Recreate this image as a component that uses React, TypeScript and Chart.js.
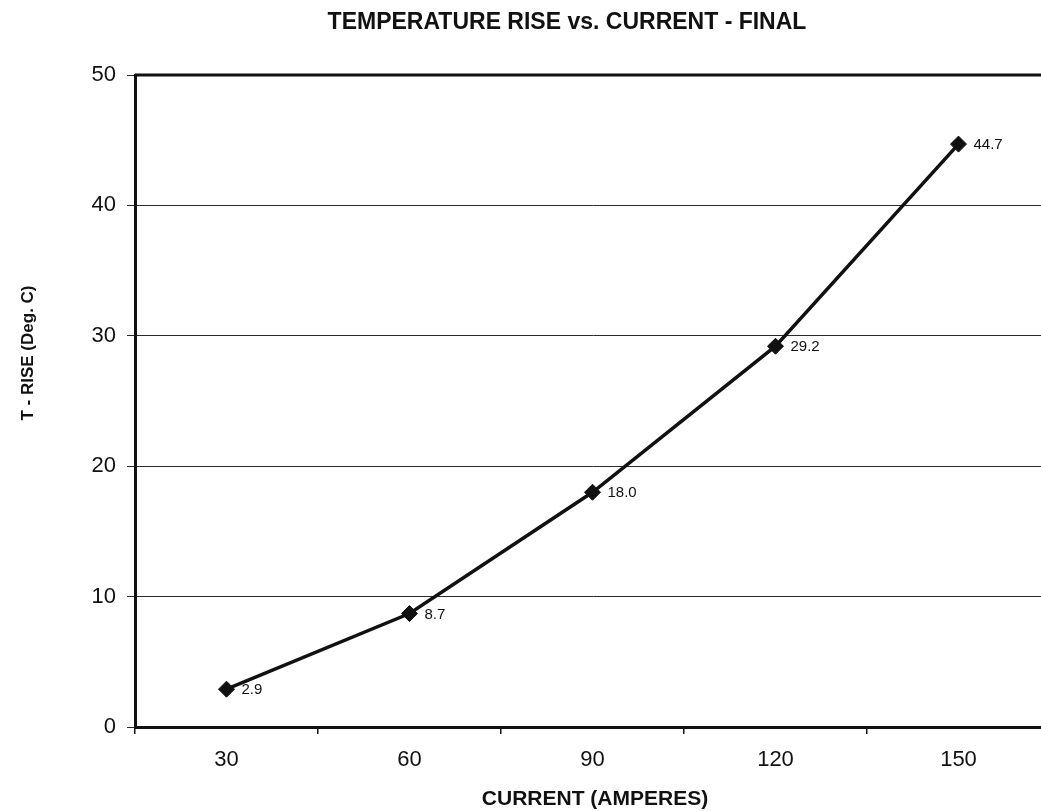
import React, { useEffect, useRef } from "react";
import { Chart, registerables } from "chart.js";

Chart.register(...registerables);

const categories = ["30", "60", "90", "120", "150"];
const tRise = [2.9, 8.7, 18.0, 29.2, 44.7];
const pointLabels = ["2.9", "8.7", "18.0", "29.2", "44.7"];
const yMin = 0;
const yMax = 50;
const yStep = 10;

const chartTitle = "TEMPERATURE RISE vs. CURRENT - FINAL";
const xTitle = "CURRENT (AMPERES)";
const yTitle = "T - RISE (Deg. C)";

const FONT = '"Liberation Sans", Arial, Helvetica, sans-serif';
const INK = "#111111";

const textPlugin = {
  id: "textPlugin",
  beforeDatasetsDraw(chart: any) {
    const { ctx, chartArea } = chart;
    ctx.save();
    ctx.strokeStyle = INK;
    ctx.lineWidth = 3;
    ctx.beginPath();
    ctx.moveTo(chartArea.left, chartArea.top);
    ctx.lineTo(chartArea.right, chartArea.top);
    ctx.lineTo(chartArea.right, chartArea.bottom);
    ctx.stroke();
    ctx.restore();
  },
  afterDraw(chart: any) {
    const { ctx } = chart;
    ctx.save();
    ctx.fillStyle = INK;
    // chart title
    ctx.font = `bold 23px ${FONT}`;
    ctx.textAlign = "center";
    ctx.textBaseline = "alphabetic";
    ctx.fillText(chartTitle, 567, 29);
    // x title
    ctx.font = `bold 21px ${FONT}`;
    ctx.fillText(xTitle, 595, 805);
    // y title
    ctx.save();
    ctx.translate(33, 353);
    ctx.rotate(-Math.PI / 2);
    ctx.font = `bold 17px ${FONT}`;
    ctx.fillText(yTitle, 0, 0);
    ctx.restore();
    // point labels
    const meta = chart.getDatasetMeta(0);
    ctx.font = `15px ${FONT}`;
    ctx.textAlign = "left";
    ctx.textBaseline = "middle";
    meta.data.forEach((pt: any, i: number) => {
      ctx.fillText(pointLabels[i], pt.x + 15, pt.y + 1);
    });
    ctx.restore();
  },
};

export default function App() {
  const ref = useRef<HTMLCanvasElement | null>(null);

  useEffect(() => {
    if (!ref.current) return;
    const chart = new Chart(ref.current, {
      type: "line",
      data: {
        labels: categories,
        datasets: [
          {
            data: tRise,
            borderColor: INK,
            borderWidth: 3.5,
            backgroundColor: INK,
            pointStyle: "rectRot",
            pointRadius: 8,
            pointBackgroundColor: INK,
            pointBorderColor: INK,
            pointBorderWidth: 1,
            tension: 0,
            fill: false,
          },
        ],
      },
      options: {
        animation: false,
        responsive: false,
        devicePixelRatio: 1,
        layout: { padding: { left: 0, right: 10, top: 75, bottom: 0 } },
        plugins: {
          legend: { display: false },
          title: { display: false },
          tooltip: { enabled: false },
        },
        scales: {
          x: {
            type: "category",
            offset: true,
            grid: {
              offset: true,
              drawOnChartArea: false,
              drawTicks: true,
              tickLength: 7,
              color: INK,
              lineWidth: 1.5,
            },
            border: { display: true, color: INK, width: 3 },
            ticks: {
              color: INK,
              font: { family: FONT, size: 22 },
              padding: 13,
              maxRotation: 0,
            },
            afterFit: (scale: any) => {
              scale.height = 84;
            },
          },
          y: {
            min: yMin,
            max: yMax,
            grid: {
              color: "#2a2a2a",
              lineWidth: 1,
              drawTicks: true,
              tickLength: 8,
            },
            border: { display: true, color: INK, width: 3 },
            ticks: {
              stepSize: yStep,
              color: INK,
              font: { family: FONT, size: 22 },
              padding: 11,
            },
            afterFit: (scale: any) => {
              scale.width = 135;
            },
          },
        },
      },
      plugins: [textPlugin],
    });
    return () => chart.destroy();
  }, []);

  return (
    <div
      style={{
        position: "absolute",
        left: 0,
        top: 0,
        width: 1041,
        height: 811,
        overflow: "hidden",
        background: "#ffffff",
      }}
    >
      <canvas
        ref={ref}
        width={1060}
        height={811}
        style={{ display: "block", width: 1060, height: 811 }}
      />
    </div>
  );
}
